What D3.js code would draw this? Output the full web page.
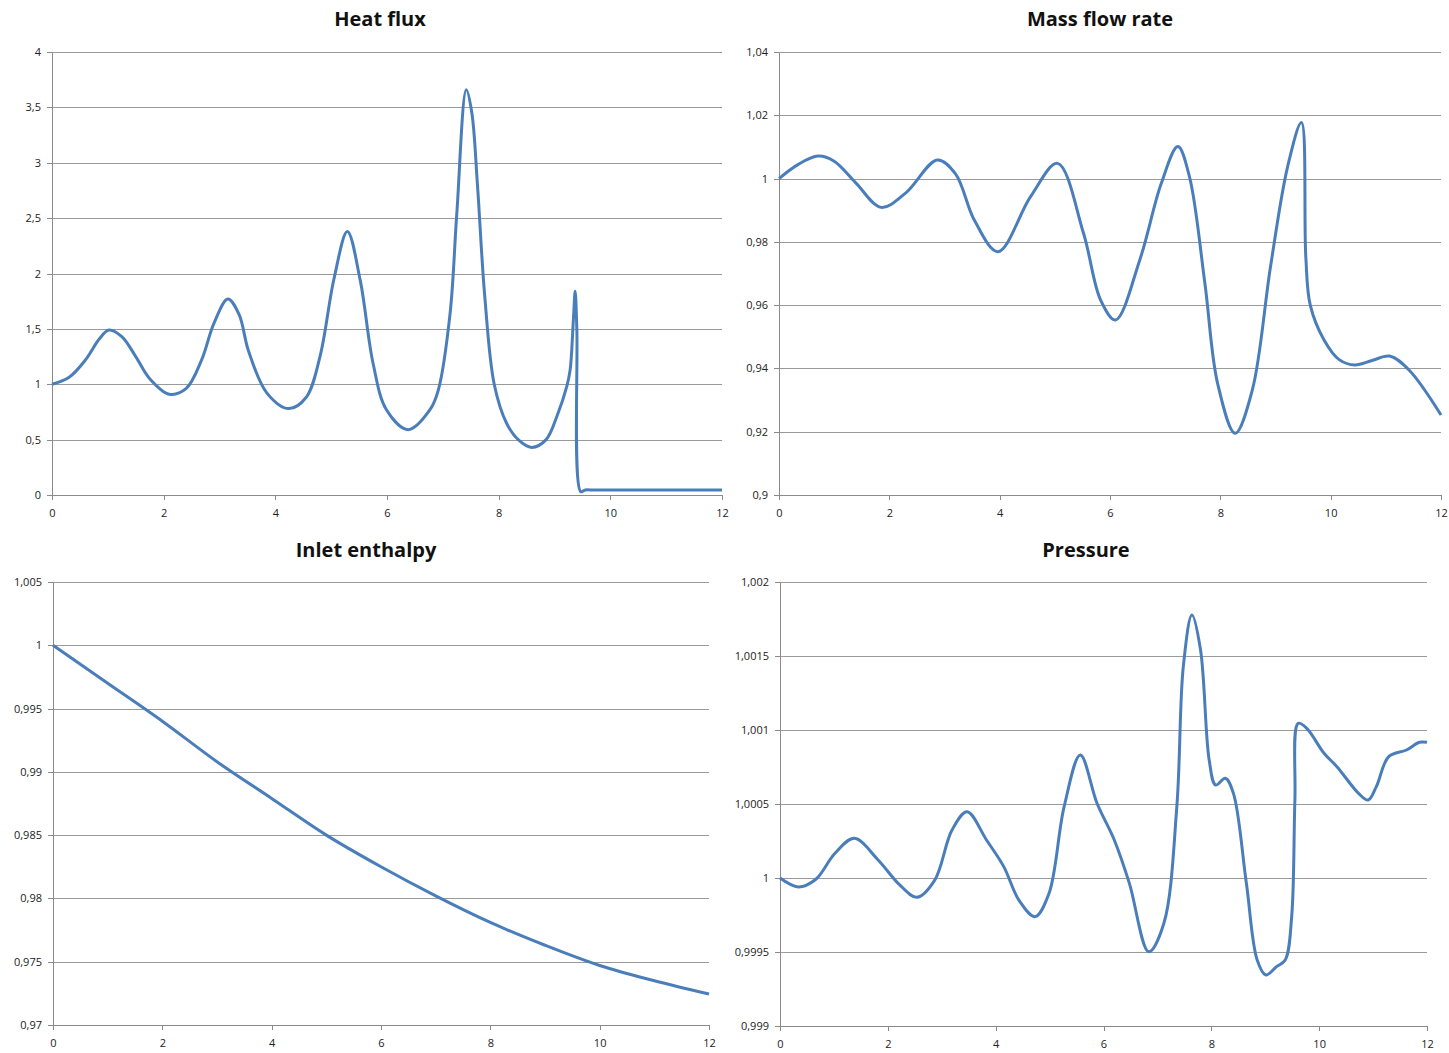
<!DOCTYPE html>
<html lang="en">
<head>
    <meta charset="UTF-8">
    <title>Transient results</title>
    <script src="https://d3js.org/d3.v7.min.js"></script>
    <style>
        body { margin: 0; background: #fff; }
        .grid line { stroke: #9a9a9a; stroke-width: 1px; shape-rendering: crispEdges; }
        .axis path, .axis line { fill: none; stroke: #8a8a8a; shape-rendering: crispEdges; }
        .axis text { font-family: "Open Sans", sans-serif; font-size: 11px; fill: #222; }
        .title { font-family: "Open Sans", sans-serif; font-size: 20px; font-weight: bold; fill: #111; }
        .line { fill: none; stroke: #4a7ebb; stroke-width: 3px; stroke-linejoin: round; }
    </style>
</head>
<body>
<svg width="1449" height="1053"></svg>
<script>
    // shared x ticks
    const xTicks = [0, 2, 4, 6, 8, 10, 12];

    // Heat flux
    const heatX = [0, 0.3, 0.6, 0.85, 1.02, 1.25, 1.5, 1.75, 2.1, 2.4, 2.68, 2.9, 3.15, 3.35, 3.52, 3.85, 4.24, 4.55, 4.8, 5.05, 5.29, 5.52, 5.75, 5.99, 6.38, 6.77, 6.92, 7.13, 7.25, 7.42, 7.52, 7.62, 7.75, 7.92, 8.14, 8.35, 8.59, 8.85, 9.05, 9.22, 9.28, 9.34, 9.37, 9.4, 9.47, 9.55, 9.7, 10, 12];
    const heatY = [1.0, 1.06, 1.22, 1.41, 1.49, 1.43, 1.25, 1.05, 0.91, 0.96, 1.22, 1.55, 1.77, 1.63, 1.3, 0.92, 0.78, 0.88, 1.25, 1.95, 2.38, 1.94, 1.19, 0.77, 0.59, 0.77, 0.95, 1.64, 2.54, 3.66, 3.45, 2.8, 1.8, 1.0, 0.65, 0.5, 0.43, 0.5, 0.72, 0.98, 1.13, 1.6, 1.84, 1.5, 0.03, 0.045, 0.045, 0.045, 0.045];
    const heatTicks = [0, 0.5, 1, 1.5, 2, 2.5, 3, 3.5, 4];

    // Mass flow rate
    const massX = [0, 0.35, 0.71, 1.0, 1.4, 1.85, 2.3, 2.87, 3.2, 3.54, 3.97, 4.56, 5.05, 5.52, 5.83, 6.1, 6.54, 6.93, 7.23, 7.44, 7.72, 7.95, 8.27, 8.58, 8.91, 9.22, 9.47, 9.55, 9.63, 9.88, 10.16, 10.44, 10.75, 11.07, 11.42, 12];
    const massY = [1.0, 1.0045, 1.0071, 1.0055, 0.9985, 0.9909, 0.9955, 1.0059, 1.0015, 0.9869, 0.9769, 0.9943, 1.0048, 0.9827, 0.9616, 0.9553, 0.9743, 0.9985, 1.0101, 1.0006, 0.9669, 0.9353, 0.9195, 0.9332, 0.9722, 1.0038, 1.0177, 0.975, 0.96, 0.949, 0.9427, 0.9411, 0.9425, 0.9439, 0.9395, 0.9253];
    const massTicks = [0.9, 0.92, 0.94, 0.96, 0.98, 1, 1.02, 1.04];

    // Inlet enthalpy
    const enthX = [0, 1, 2, 3, 4, 5, 6, 7, 8, 9, 10, 11, 12];
    const enthY = [1.0, 0.9970, 0.9940, 0.9908, 0.9879, 0.9850, 0.9825, 0.9802, 0.9781, 0.9763, 0.9747, 0.9735, 0.97245];
    const enthTicks = [0.97, 0.975, 0.98, 0.985, 0.99, 0.995, 1, 1.005];

    // Pressure
    const presX = [0, 0.34, 0.66, 1.02, 1.38, 1.82, 2.22, 2.54, 2.87, 3.19, 3.47, 3.83, 4.15, 4.43, 4.73, 4.99, 5.27, 5.57, 5.88, 6.2, 6.48, 6.84, 7.12, 7.36, 7.48, 7.64, 7.8, 7.96, 8.08, 8.26, 8.41, 8.65, 8.85, 9.01, 9.21, 9.37, 9.49, 9.55, 9.61, 9.77, 10.09, 10.33, 10.73, 10.91, 11.06, 11.29, 11.62, 11.86, 12];
    const presY = [1.0, 0.99994, 0.99999, 1.000167, 1.000268, 1.000122, 0.999953, 0.99987, 0.999986, 1.000324, 1.000448, 1.000257, 1.000077, 0.999851, 0.999739, 0.999897, 1.000482, 1.000831, 1.000505, 1.000257, 0.999964, 0.999502, 0.999694, 1.000482, 1.001428, 1.001777, 1.001541, 1.000797, 1.000628, 1.000674, 1.000572, 0.999964, 0.999446, 0.999345, 0.999401, 0.999446, 0.999739, 1.000527, 1.001045, 1.001011, 1.000843, 1.000752, 1.000572, 1.000527, 1.000617, 1.00082, 1.000865, 1.000917, 1.000917];
    const presTicks = [0.999, 0.9995, 1, 1.0005, 1.001, 1.0015, 1.002];

    const panels = [
        {title: "Heat flux", xs: heatX, ys: heatY, ticks: heatTicks, box: {l: 52, r: 722, t: 52, b: 495}, tx: 380, ty: 26},
        {title: "Mass flow rate", xs: massX, ys: massY, ticks: massTicks, box: {l: 779, r: 1441, t: 52, b: 495}, tx: 1100, ty: 26},
        {title: "Inlet enthalpy", xs: enthX, ys: enthY, ticks: enthTicks, box: {l: 53, r: 709, t: 582, b: 1025}, tx: 366, ty: 557},
        {title: "Pressure", xs: presX, ys: presY, ticks: presTicks, box: {l: 780, r: 1427, t: 582, b: 1026}, tx: 1086, ty: 557}
    ];

    // comma decimal, trailing zeros dropped
    const fmt = v => String(+v.toFixed(6)).replace(".", ",");

    const svg = d3.select("svg");

    panels.forEach(p => {
        const b = p.box;
        const x = d3.scaleLinear().domain([0, 12]).range([b.l, b.r]);
        const y = d3.scaleLinear().domain(d3.extent(p.ticks)).range([b.b, b.t]);

        // gridlines
        svg.append("g").attr("class", "grid")
            .selectAll("line").data(p.ticks.slice(1)).join("line")
            .attr("x1", b.l).attr("x2", b.r)
            .attr("y1", d => Math.round(y(d)) + 0.5).attr("y2", d => Math.round(y(d)) + 0.5);

        svg.append("g").attr("class", "axis")
            .attr("transform", "translate(0," + b.b + ")")
            .call(d3.axisBottom(x).tickValues(xTicks).tickFormat(d3.format("d")).tickSize(5).tickPadding(9));

        svg.append("g").attr("class", "axis")
            .attr("transform", "translate(" + b.l + ",0)")
            .call(d3.axisLeft(y).tickValues(p.ticks).tickFormat(fmt).tickSize(5).tickSizeOuter(0).tickPadding(6));

        const pts = p.xs.map((v, i) => [v, p.ys[i]]);
        const line = d3.line()
            .x(d => x(d[0]))
            .y(d => y(d[1]))
            .curve(d3.curveCatmullRom.alpha(0.5));

        svg.append("path").attr("class", "line").attr("d", line(pts));

        svg.append("text").attr("class", "title")
            .attr("x", p.tx).attr("y", p.ty)
            .attr("text-anchor", "middle")
            .text(p.title);
    });
</script>
</body>
</html>
